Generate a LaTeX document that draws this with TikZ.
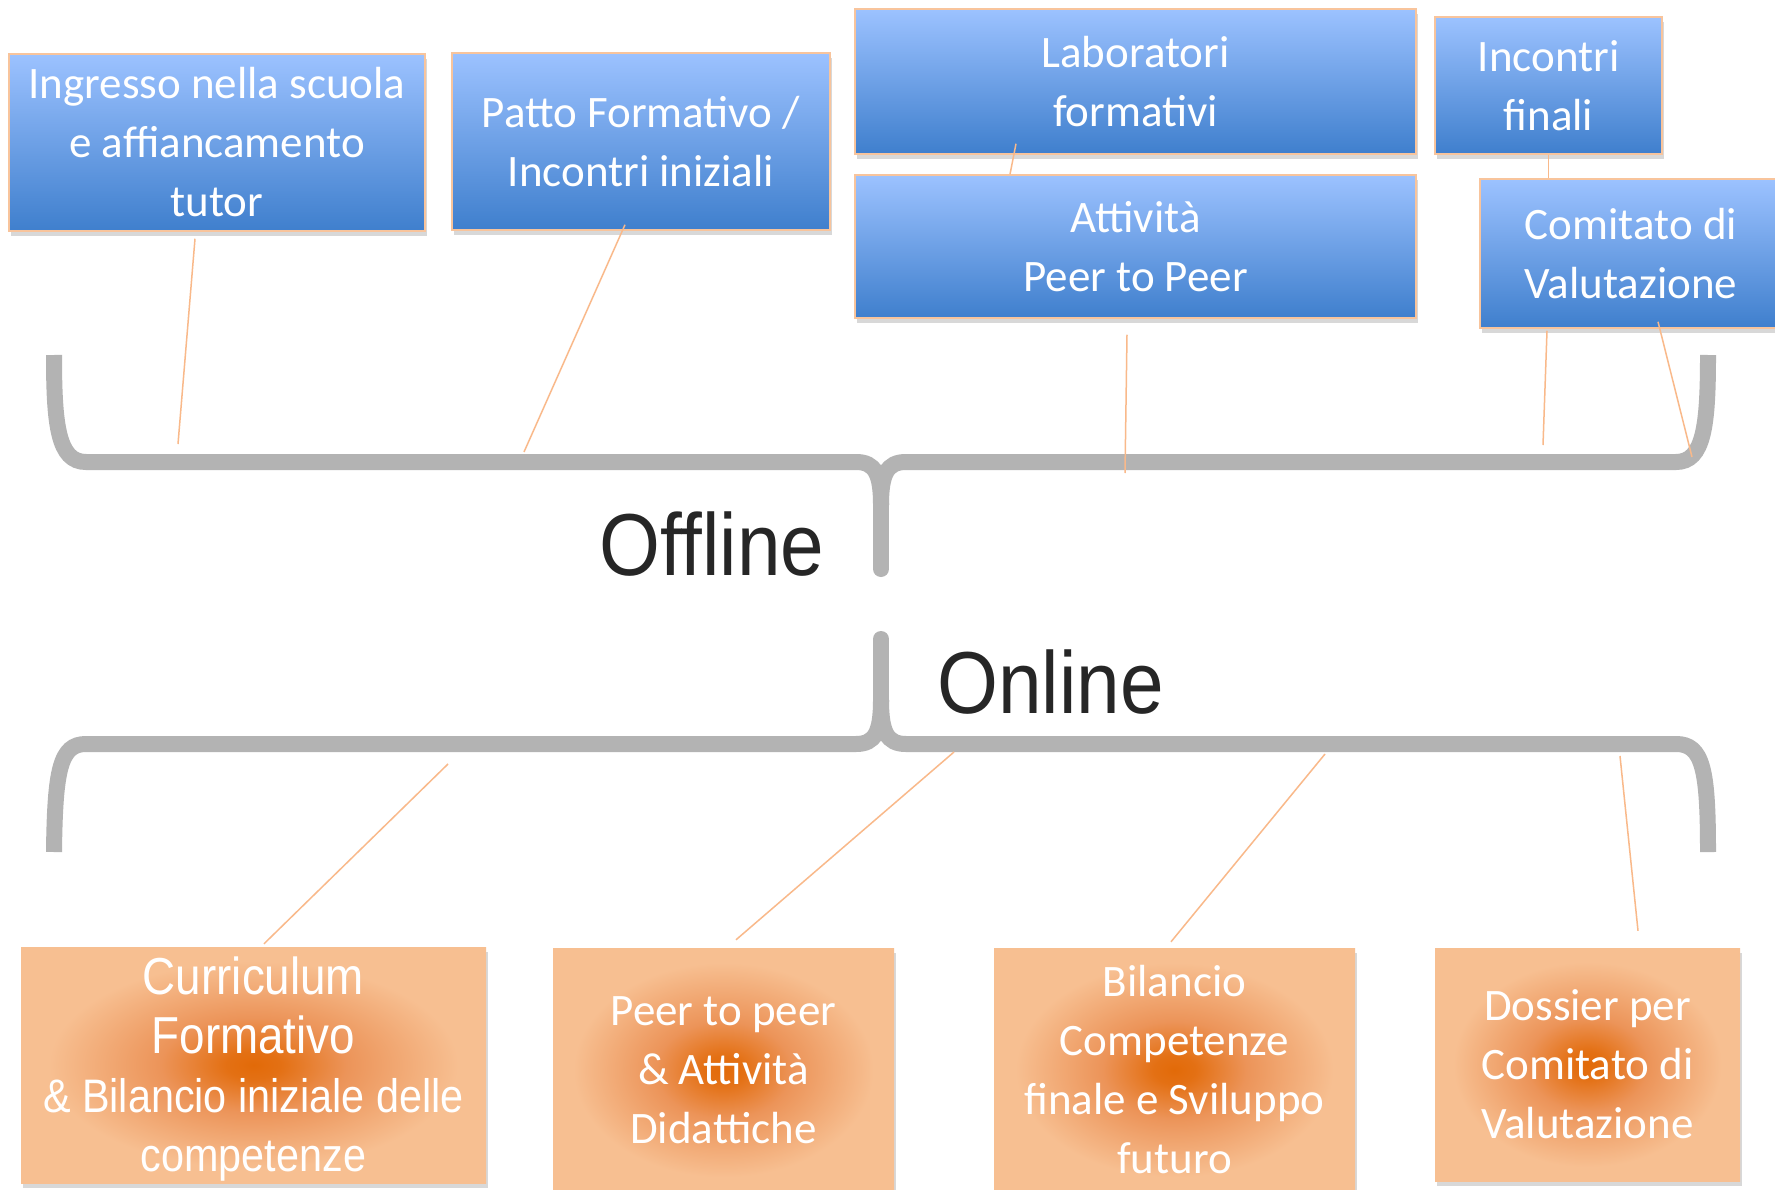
\documentclass[tikz,border=0pt]{standalone}
\usepackage{fontspec}
\setmainfont{Carlito}
\newfontfamily\headfont{Liberation Sans}
\usetikzlibrary{shadows}

\definecolor{bluetop}{HTML}{9CC2FF}
\definecolor{bluemid}{HTML}{74A2EA}
\definecolor{bluebot}{HTML}{3F7FCD}
\definecolor{boxedge}{HTML}{F8C49C}
\definecolor{leadcol}{HTML}{F9B98A}
\definecolor{bracecol}{HTML}{B3B3B3}
\definecolor{glowC}{HTML}{E26A08}
\definecolor{glowM}{HTML}{EC9459}
\definecolor{glowO}{HTML}{F7BF91}
\definecolor{labelcol}{HTML}{262626}
\pgfdeclareradialshading{orangeglow}{\pgfpoint{0bp}{0bp}}{color(0bp)=(glowC); color(3bp)=(glowC!85!glowM); color(10bp)=(glowM); color(22bp)=(glowO); color(50bp)=(glowO)}

\tikzset{
  bluebox/.style={rectangle,draw=boxedge,line width=1.5pt,top color=bluetop,middle color=bluemid,bottom color=bluebot,
    text=white,align=center,inner sep=0pt,font=\fontsize{45}{59}\selectfont,
    drop shadow={opacity=0.3,shadow xshift=2pt,shadow yshift=-5pt}},
  orangebox/.style={rectangle,shade,shading=orangeglow,text=white,align=center,inner sep=0pt,
    font=\fontsize{45}{59}\selectfont,drop shadow={opacity=0.3,shadow xshift=2pt,shadow yshift=-5pt}},
  leader/.style={draw=leadcol,line width=1.5pt},
  brace/.style={draw=bracecol,line width=16pt},
  bigword/.style={text=labelcol,font=\headfont\fontsize{88}{100}\selectfont,inner sep=0pt,anchor=base west}
}

\begin{document}
\begin{tikzpicture}[x=1pt,y=-1pt]
  \clip (0,0) rectangle (1775,1190);
  \fill[white] (0,0) rectangle (1775,1190);

  % offline brace
  \draw[brace] (54,355) .. controls (54,425) and (58,462) .. (86,462) -- (856,462) .. controls (875,462) and (881,474) .. (881,505);
  \draw[brace] (1708,355) .. controls (1708,425) and (1704,462) .. (1676,462) -- (906,462) .. controls (887,462) and (881,474) .. (881,505);
  \draw[brace,line cap=round] (881,500) -- (881,569);
  % online brace
  \draw[brace,line cap=round] (881,639) -- (881,705);
  \draw[brace] (881,700) .. controls (881,732) and (875,744) .. (856,744) -- (86,744) .. controls (60,744) and (55,770) .. (54,852);
  \draw[brace] (881,700) .. controls (881,732) and (887,744) .. (906,744) -- (1676,744) .. controls (1703,744) and (1708,770) .. (1708,852);

  \node[bigword] (offline) at (599,575) {\scalebox{0.89}[1]{Offline}};
  \node[bigword] (online) at (937,713) {\scalebox{0.89}[1]{Online}};

  % offline boxes
  \node[bluebox,minimum width=416pt,minimum height=177pt] (ingresso) at (217,142.5) {Ingresso nella scuola\\e affiancamento\\tutor};
  \node[bluebox,minimum width=378pt,minimum height=177pt] (patto) at (641,141.5) {Patto Formativo /\\Incontri iniziali};
  \node[bluebox,minimum width=561pt,minimum height=145pt] (lab) at (1135.5,81.5) {Laboratori\\formativi};
  \node[bluebox,minimum width=561pt,minimum height=143pt] (attivita) at (1135.5,246.5) {Attività\\Peer to Peer};
  \node[bluebox,minimum width=227pt,minimum height=137pt] (incontri) at (1548.5,85.5) {Incontri\\finali};
  \node[bluebox,minimum width=302pt,minimum height=149pt] (comitato) at (1631,253.5) {Comitato di\\Valutazione};

  % online boxes
  \node[orangebox,minimum width=465pt,minimum height=236pt] (curric) at (253.5,1065)
    {\headfont\raisebox{-6pt}[\height][\depth]{\scalebox{0.88}[1]{\begin{tabular}{@{}c@{}}
      \fontsize{52}{58}\selectfont Curriculum\\
      \fontsize{52}{58}\selectfont Formativo\\
      \fontsize{47}{58}\selectfont \& Bilancio iniziale delle\\
      \fontsize{47}{58}\selectfont competenze\end{tabular}}}};
  \node[orangebox,minimum width=341pt,minimum height=244pt] (peer) at (723.5,1070) {Peer to peer\\\& Attività\\Didattiche};
  \node[orangebox,minimum width=361pt,minimum height=244pt] (bilancio) at (1174.5,1070) {Bilancio\\Competenze\\finale e Sviluppo\\futuro};
  \node[orangebox,minimum width=305pt,minimum height=233pt] (dossier) at (1587.5,1064.5) {Dossier per\\Comitato di\\Valutazione};

  % leader lines
  \coordinate (j1) at (178,444);
  \coordinate (j2) at (524,452);
  \coordinate (j3) at (1125,473);
  \coordinate (j4) at (1543,445);
  \coordinate (j5) at (1692,457);
  \coordinate (k1) at (448,764);
  \coordinate (k2) at (954,752);
  \coordinate (k3) at (1325,754);
  \coordinate (k4) at (1620,756);
  \path[leader] ([xshift=-22pt,yshift=-7pt]ingresso.south) edge (j1);
  \path[leader] ([xshift=-16pt,yshift=6pt]patto.south) edge (j2);
  \path[leader] ([xshift=-119.5pt,yshift=11pt]lab.south) edge ([xshift=-125.5pt]attivita.north);
  \path[leader] ([xshift=-8.5pt,yshift=-16pt]attivita.south) edge (j3);
  \path[leader] (incontri.south) edge (incontri.south |- comitato.north);
  \path[leader] ([xshift=-84pt,yshift=-2pt]comitato.south) edge (j4);
  \path[leader] ([xshift=27pt,yshift=7pt]comitato.south) edge (j5);
  \path[leader] (k1) edge ([xshift=10.5pt,yshift=3pt]curric.north);
  \path[leader] (k2) edge ([xshift=12.5pt,yshift=8pt]peer.north);
  \path[leader] (k3) edge ([xshift=-3.5pt,yshift=6pt]bilancio.north);
  \path[leader] (k4) edge ([xshift=50.5pt,yshift=17pt]dossier.north);
\end{tikzpicture}
\end{document}
